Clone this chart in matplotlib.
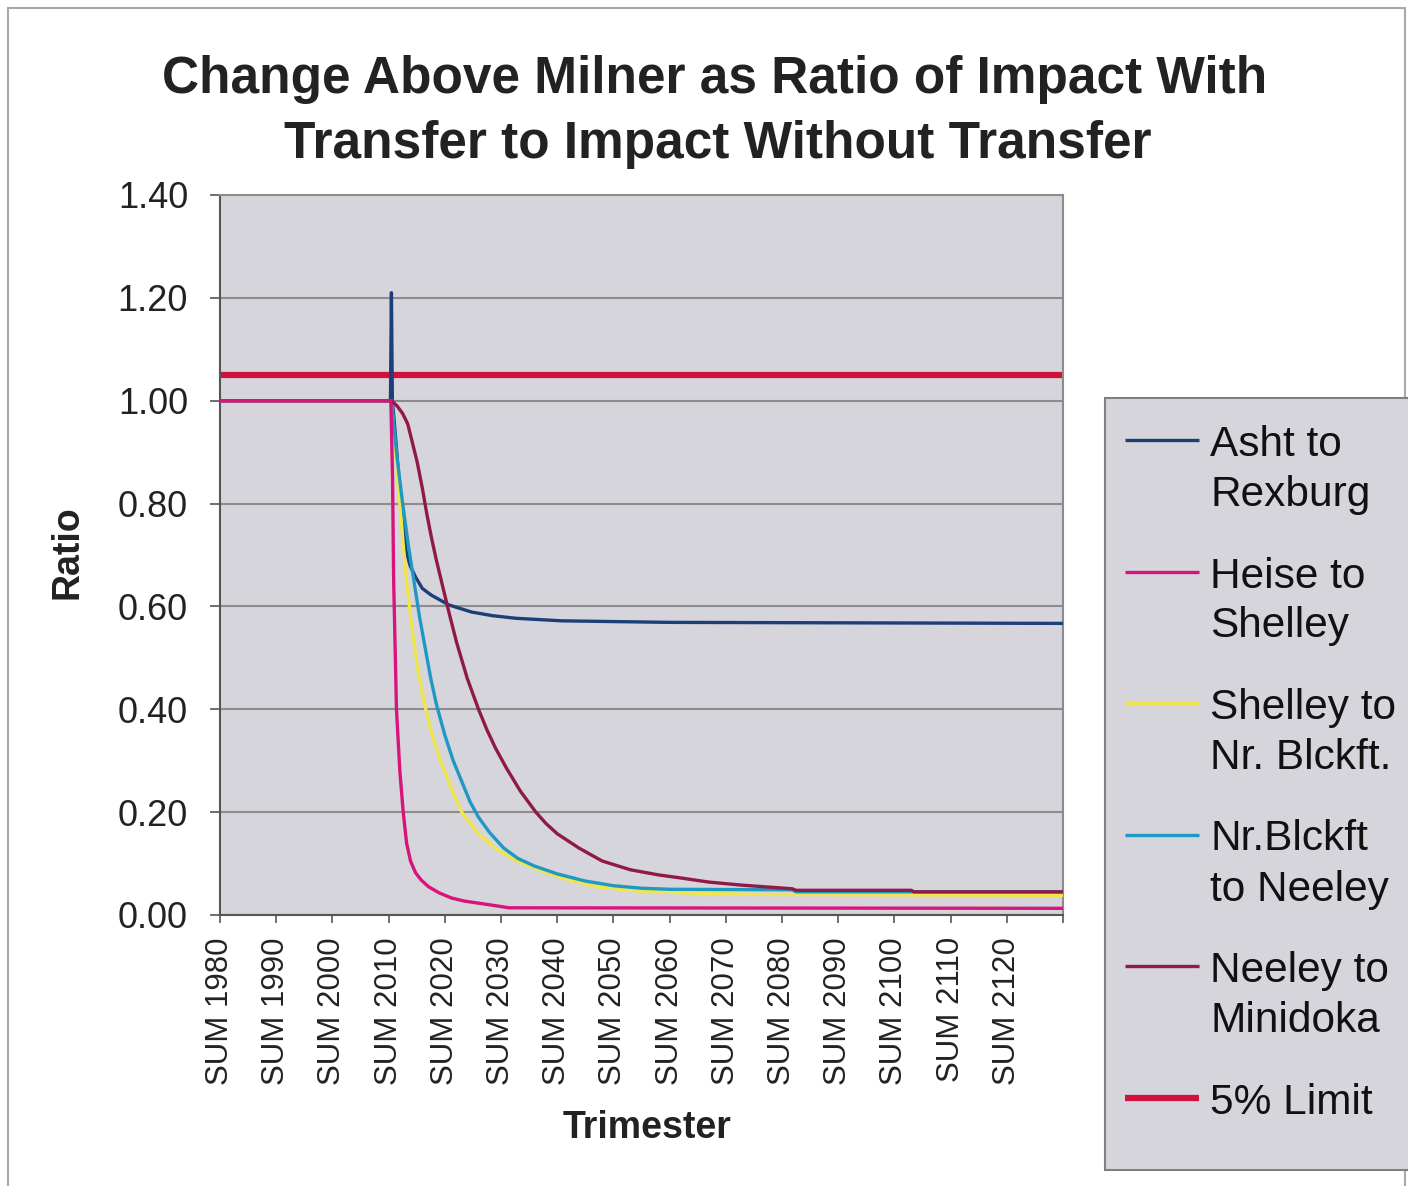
import matplotlib
matplotlib.use("Agg")
import matplotlib.pyplot as plt
from matplotlib.lines import Line2D
from matplotlib.patches import Rectangle

plt.rcParams['font.family'] = ['Liberation Sans', 'DejaVu Sans']

# values (decimal year, ratio)
asht_year = [1980, 2010.33, 2010.5, 2010.67, 2011.0, 2011.6, 2012.2, 2012.7, 2013.1, 2013.8,
             2014.8, 2016.0, 2017.6, 2020.7, 2024.8, 2028.5, 2032.6, 2040.8, 2060, 2130]
asht_ratio = [1.0, 1.0, 1.21, 1.0, 0.96, 0.88, 0.80, 0.75, 0.71, 0.68,
              0.657, 0.635, 0.622, 0.603, 0.589, 0.582, 0.577, 0.572, 0.569, 0.567]

heise_year = [1980, 2010.4, 2010.7, 2010.9, 2011.4, 2012.0, 2012.6, 2013.2, 2013.9, 2014.8,
              2015.8, 2017.1, 2019.0, 2021.2, 2023.5, 2026.0, 2028.5, 2031.4, 2130]
heise_ratio = [1.0, 1.0, 0.85, 0.65, 0.40, 0.28, 0.20, 0.14, 0.105, 0.082,
               0.068, 0.055, 0.043, 0.033, 0.027, 0.023, 0.019, 0.014, 0.013]

shelley_year = [1980, 2010.5, 2011.0, 2011.5, 2012.1, 2012.6, 2013.2, 2014.1, 2015.3, 2016.6,
                2018.0, 2019.4, 2021.2, 2023.0, 2025.8, 2029.0, 2032.5, 2036.7, 2041.5, 2046.9,
                2054, 2062, 2075, 2130]
shelley_ratio = [1.0, 1.0, 0.93, 0.86, 0.79, 0.72, 0.65, 0.56, 0.47, 0.40,
                 0.34, 0.295, 0.245, 0.20, 0.16, 0.13, 0.107, 0.088, 0.07, 0.055,
                 0.047, 0.043, 0.040, 0.038]

blckft_year = [1980, 2010.5, 2011.5, 2012.5, 2013.5, 2014.5, 2015.5, 2016.5, 2017.5, 2018.5,
               2020.0, 2021.5, 2023.0, 2024.5, 2026.0, 2028.0, 2030.5, 2033.0, 2036.0, 2040.0,
               2045.0, 2050.0, 2055.0, 2060.0, 2081.8, 2082.5, 2130]
blckft_ratio = [1.0, 1.0, 0.89, 0.80, 0.72, 0.65, 0.58, 0.52, 0.46, 0.41,
                0.35, 0.30, 0.26, 0.22, 0.19, 0.16, 0.13, 0.11, 0.095, 0.08,
                0.066, 0.057, 0.052, 0.050, 0.049, 0.045, 0.045]

neeley_year = [1980, 2010.5, 2011.5, 2012.5, 2013.4, 2014.2, 2015.1, 2016.0, 2016.8, 2017.6,
               2018.5, 2019.6, 2020.7, 2022.1, 2024.0, 2026.0, 2027.5, 2029.0, 2031.0, 2033.5,
               2036.2, 2038.0, 2040.0, 2043.9, 2048.0, 2053.0, 2058.0, 2062.0, 2067.0, 2072.9,
               2081.8, 2082.5, 2103, 2103.5, 2130]
neeley_ratio = [1.0, 1.0, 0.99, 0.975, 0.955, 0.92, 0.88, 0.83, 0.78, 0.735,
                0.69, 0.64, 0.59, 0.53, 0.46, 0.40, 0.36, 0.325, 0.285, 0.24,
                0.20, 0.178, 0.158, 0.13, 0.105, 0.088, 0.078, 0.072, 0.064, 0.058,
                0.051, 0.048, 0.048, 0.045, 0.045]

limit_year = [1980, 2130]
limit_ratio = [1.05, 1.05]

decades = list(range(1980, 2131, 10))
decade_labels = ['SUM %d' % d for d in decades[:-1]] + ['']
yticks = [0.0, 0.2, 0.4, 0.6, 0.8, 1.0, 1.2, 1.4]

names = ['Asht to\nRexburg', 'Heise to\nShelley', 'Shelley to\nNr. Blckft.',
         'Nr.Blckft\nto Neeley', 'Neeley to\nMinidoka', '5% Limit']
colors = ['#1c3f78', '#d8147c', '#eee64c', '#1f98c4', '#8e1a45', '#d2103c']
widths = [2.4, 2.4, 2.4, 2.4, 2.4, 4.5]

W, H = 1408, 1186
fig = plt.figure(figsize=(W / 100, H / 100), dpi=100)

def fx(px):
    return px / W

def fy(py):
    return 1 - py / H

bg = '#d6d5dc'
ax = fig.add_axes([fx(220), fy(915), fx(1063) - fx(220), fy(195) - fy(915)])
ax.set_facecolor(bg)

series = [(asht_year, asht_ratio), (heise_year, heise_ratio), (shelley_year, shelley_ratio),
          (blckft_year, blckft_ratio), (neeley_year, neeley_ratio), (limit_year, limit_ratio)]
zorders = [3, 7, 4, 5, 6, 2.5]
for (xs, ys), c, lw, z in zip(series, colors, widths, zorders):
    ax.plot(xs, ys, color=c, lw=lw, zorder=z, solid_capstyle='butt', solid_joinstyle='round')

ax.set_xlim(1980, 2130)
ax.set_ylim(0, 1.4)
ax.set_yticks(yticks)
ax.set_yticklabels(['%.2f' % v for v in yticks], fontsize=26, color='#222222')
ax.set_xticks(decades)
ax.set_xticklabels(decade_labels, rotation=90, fontsize=22.5, color='#222222')
ax.tick_params(axis='y', direction='out', length=7, width=1.2, color='#555555', pad=16)
ax.tick_params(axis='x', direction='out', length=6, width=1.2, color='#555555', pad=10)
ax.grid(axis='y', color='#8c8c8c', lw=1.5, zorder=1)
ax.set_axisbelow(True)
for side in ['left', 'bottom']:
    ax.spines[side].set_color('#555555')
    ax.spines[side].set_linewidth(1.5)
for side in ['top', 'right']:
    ax.spines[side].set_color('#8c8c8c')
    ax.spines[side].set_linewidth(1.5)

ax.set_ylabel('Ratio', fontsize=27, fontweight='bold', color='#222222', va='center')
ax.yaxis.set_label_coords((68 - 220) / 843, (915 - 552) / 720)
ax.set_xlabel('Trimester', fontsize=27, fontweight='bold', color='#222222', va='center')
ax.xaxis.set_label_coords((647 - 220) / 843, (915 - 1128) / 720)

# title
fig.text(fx(715), fy(93), 'Change Above Milner as Ratio of Impact With', ha='center',
         va='baseline', fontsize=37, fontweight='bold', color='#222222')
fig.text(fx(718), fy(158), 'Transfer to Impact Without Transfer', ha='center',
         va='baseline', fontsize=37, fontweight='bold', color='#222222')

# outer frame and legend box
fig.add_artist(Rectangle((fx(8), fy(1200)), fx(1405) - fx(8), fy(8) - fy(1200),
                         transform=fig.transFigure, fill=False, edgecolor='#a8a8a8', lw=1.5))
fig.add_artist(Rectangle((fx(1105), fy(1170)), fx(1420) - fx(1105), fy(398) - fy(1170),
                         transform=fig.transFigure, facecolor=bg, edgecolor='#808080', lw=1.5))

for i, (name, c, lw) in enumerate(zip(names, colors, widths)):
    y0 = 440 + i * 131.5
    fig.add_artist(Line2D([fx(1125), fx(1199)], [fy(y0), fy(y0)], color=c, lw=lw,
                          transform=fig.transFigure, solid_capstyle='butt'))
    for j, line in enumerate(name.split('\n')):
        fig.text(fx(1210), fy(y0 + 16 + j * 50), line, ha='left', va='baseline',
                 fontsize=30.5, color='#111111')

fig.savefig('out.png', dpi=100, facecolor='white')
